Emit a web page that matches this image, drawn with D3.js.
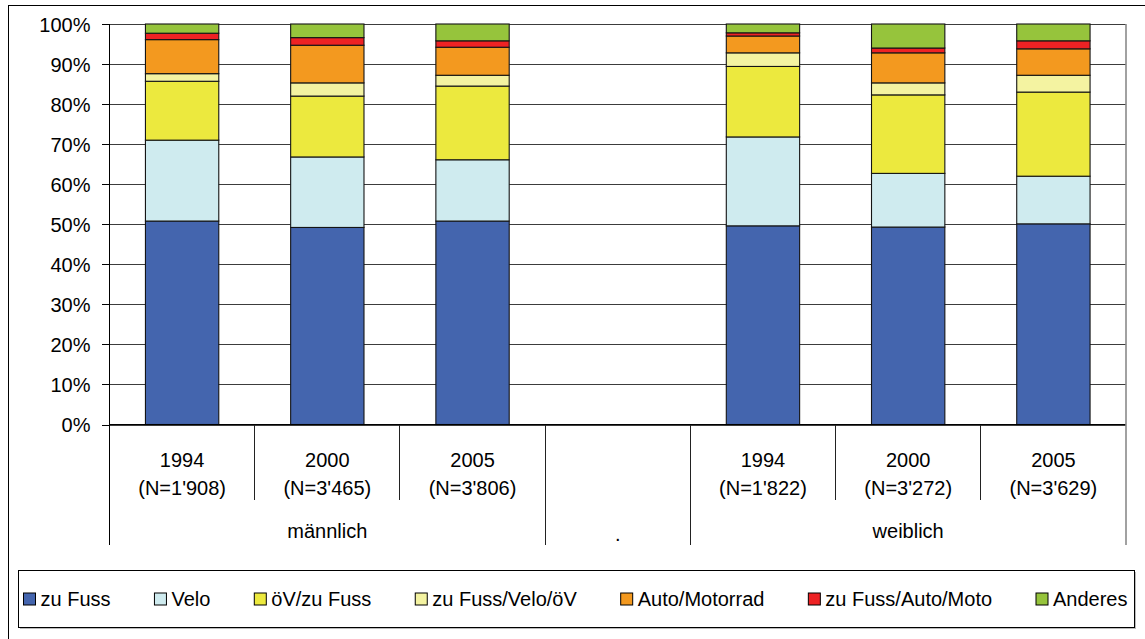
<!DOCTYPE html>
<html><head><meta charset="utf-8">
<script src="https://cdn.jsdelivr.net/npm/d3@7"></script>
<style>
body{margin:0;background:#fff;}
text{font-family:"Liberation Sans",Arial,sans-serif;fill:#000;}
</style>
</head><body>
<svg id="chart" width="1145" height="639"></svg>
<script>
// ---- data ----
const categories = ["m1994","m2000","m2005","leer","w1994","w2000","w2005"];
const yearLabels = ["1994","2000","2005","","1994","2000","2005"];
const nLabels = ["(N=1'908)","(N=3'465)","(N=3'806)","","(N=1'822)","(N=3'272)","(N=3'629)"];
const groupLabels = ["männlich",".","weiblich"];
const groupSpans = [3,1,3];
const seriesNames = ["zu Fuss","Velo","öV/zu Fuss","zu Fuss/Velo/öV","Auto/Motorrad","zu Fuss/Auto/Moto","Anderes"];
const zuFuss      = [50.8,49.2,50.8,null,49.6,49.3,50.1];
const velo        = [20.2,17.6,15.3,null,22.2,13.4,11.9];
const oevZuFuss   = [14.7,15.2,18.4,null,17.6,19.6,21.0];
const fussVeloOev = [1.9,3.3,2.7,null,3.4,3.0,4.2];
const autoMoto    = [8.5,9.4,7.0,null,4.2,7.5,6.6];
const fussAutoMoto= [1.6,1.9,1.6,null,0.8,1.2,2.0];
const anderes     = [2.3,3.4,4.2,null,2.2,6.0,4.2];
const seriesColors = ["#4465AE","#CFEBEF","#ECE93E","#F4F3A1","#F3991F","#EE2224","#96C43C"];
const yTicks = [0,10,20,30,40,50,60,70,80,90,100];

const seriesValues = [zuFuss,velo,oevZuFuss,fussVeloOev,autoMoto,fussAutoMoto,anderes];

// ---- layout ----
const FS = "20px";
const svg = d3.select("#chart");
const L = 109.5, R = 1126, T = 24, B = 424.5;
const catBottomShort = 500, catBottomLong = 545;

// outer frame
svg.append("rect").attr("x",8.5).attr("y",5.5).attr("width",1160).attr("height",660)
  .attr("fill","none").attr("stroke","#000").attr("stroke-width",1);

const x = d3.scaleBand().domain(categories).range([L,R]).padding(0);
const y = d3.scaleLinear().domain([0,100]).range([B,T]);
const barW = x.bandwidth()*0.505;

// gridlines
const grid = svg.append("g").attr("transform",`translate(${L},0)`)
  .call(d3.axisLeft(y).tickValues(yTicks).tickSize(-(R-L)).tickFormat(""));
grid.select(".domain").remove();
grid.selectAll("line").attr("stroke","#3c3c3c").attr("stroke-width",1).attr("shape-rendering","crispEdges");

// stacked bars
const rows = categories.map((c,i)=>{
  const o = {cat:c};
  seriesNames.forEach((s,k)=>{ o[s] = seriesValues[k][i] ?? 0; });
  return o;
});
const stack = d3.stack().keys(seriesNames)(rows);
stack.forEach((layer,k)=>{
  svg.append("g").selectAll("rect")
    .data(layer.filter((d,i)=>seriesValues[k][i]!==null))
    .join("rect")
    .attr("x",d=>x(d.data.cat)+(x.bandwidth()-barW)/2)
    .attr("y",d=>y(d[1]))
    .attr("width",barW)
    .attr("height",d=>y(d[0])-y(d[1]))
    .attr("fill",seriesColors[k])
    .attr("stroke","#141414").attr("stroke-width",1.1);
});

// y axis
const yAxis = svg.append("g").attr("transform",`translate(${L},0)`)
  .call(d3.axisLeft(y).tickValues(yTicks).tickSize(8).tickPadding(11).tickFormat(d=>d+"%"));
yAxis.select(".domain").remove();
yAxis.selectAll("line").attr("stroke","#000").attr("shape-rendering","crispEdges");
yAxis.selectAll("text").style("font-size",FS).attr("font-family",null).attr("dy","0.36em");

// axis lines
svg.append("line").attr("x1",L).attr("x2",L).attr("y1",T).attr("y2",catBottomLong)
  .attr("stroke","#000").attr("stroke-width",1).attr("shape-rendering","crispEdges");
svg.append("line").attr("x1",L).attr("x2",R).attr("y1",B).attr("y2",B)
  .attr("stroke","#000").attr("stroke-width",1.2).attr("shape-rendering","crispEdges");
svg.append("line").attr("x1",R).attr("x2",R).attr("y1",T).attr("y2",catBottomLong)
  .attr("stroke","#8a8a8a").attr("stroke-width",1.6);

// category dividers
const groupBounds = [0];
groupSpans.forEach(s=>groupBounds.push(groupBounds[groupBounds.length-1]+s));
const stepW = x.step();
for(let i=1;i<categories.length;i++){
  const xx = L + i*stepW;
  const long = groupBounds.includes(i);
  svg.append("line").attr("x1",xx).attr("x2",xx).attr("y1",B).attr("y2",long?catBottomLong:catBottomShort)
    .attr("stroke","#222").attr("stroke-width",1).attr("shape-rendering","crispEdges");
}

// category labels
const cl = svg.append("g").style("font-size",FS).attr("text-anchor","middle");
categories.forEach((c,i)=>{
  const cx = x(c)+x.bandwidth()/2;
  cl.append("text").attr("x",cx).attr("y",467).text(yearLabels[i]);
  cl.append("text").attr("x",cx).attr("y",495).text(nLabels[i]);
});
groupLabels.forEach((g,j)=>{
  const x0 = L + groupBounds[j]*stepW, x1 = L + groupBounds[j+1]*stepW;
  cl.append("text").attr("x",(x0+x1)/2).attr("y",g==="."?541:538).text(g);
});

// legend
const lgX0 = 18.5, lgX1 = 1134.5, lgY0 = 570.5, lgY1 = 627.5;
svg.append("rect").attr("x",lgX0+1.5).attr("y",lgY0+1.5).attr("width",lgX1-lgX0).attr("height",lgY1-lgY0)
  .attr("fill","#bbb");
svg.append("rect").attr("x",lgX0).attr("y",lgY0).attr("width",lgX1-lgX0).attr("height",lgY1-lgY0)
  .attr("fill","#fff").attr("stroke","#000").attr("stroke-width",1);
const lg = svg.append("g").style("font-size",FS);
const sq = 12, gapSq = 5;
const items = seriesNames.map((s,k)=>{
  const g = lg.append("g");
  g.append("rect").attr("width",sq).attr("height",sq).attr("y",-sq/2)
    .attr("fill",seriesColors[k]).attr("stroke","#000").attr("stroke-width",1);
  const t = g.append("text").attr("x",sq+gapSq).attr("dy","0.36em").text(s);
  return {g, w: sq+gapSq+t.node().getComputedTextLength()};
});
const startX = lgX0+5, endX = lgX1-7;
const total = d3.sum(items,d=>d.w);
const between = (endX-startX-total)/(items.length-1);
let cx = startX;
const lgCy = (lgY0+lgY1)/2;
items.forEach(it=>{ it.g.attr("transform",`translate(${cx},${lgCy})`); cx += it.w+between; });
</script>
</body></html>
